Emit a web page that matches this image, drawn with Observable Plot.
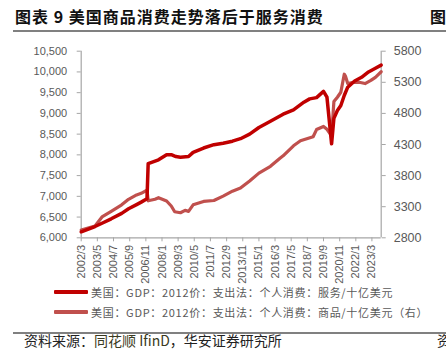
<!DOCTYPE html>
<html><head><meta charset="utf-8">
<script src="https://cdn.jsdelivr.net/npm/d3@7"></script>
<script src="https://cdn.jsdelivr.net/npm/@observablehq/plot@0.6"></script>
<style>
body{margin:0;background:#fff;}
#wrap{position:relative;width:446px;height:360px;overflow:hidden;background:#fff;font-family:"Noto Sans CJK SC","Noto Sans",sans-serif;}
#title{height:35px;position:relative;}
#title .t{position:absolute;left:15px;top:7px;font-size:16px;line-height:18px;font-weight:bold;color:#111;white-space:nowrap;letter-spacing:1px;}
#title .r{position:absolute;left:430px;top:7px;font-size:16px;line-height:18px;font-weight:bold;color:#111;}
.rule{position:absolute;left:13px;width:433px;height:2px;background:#808080;}
#chart{position:absolute;left:0;top:35px;}
.leg{position:absolute;left:0;width:446px;height:16px;}
.leg .ln{position:absolute;left:54px;width:34px;height:3.5px;top:6px;border-radius:1px;}
.leg .tx{position:absolute;left:91px;top:0;font-size:11px;line-height:16px;color:#595959;white-space:nowrap;letter-spacing:0.7px;}
#src{position:absolute;left:24px;top:331px;font-size:14px;line-height:18px;color:#222;white-space:nowrap;}
#src2{position:absolute;left:437px;top:331px;font-size:14px;line-height:18px;color:#222;}
</style></head>
<body>
<div id="wrap">
  <div id="title"><div class="t">图表 9&nbsp;美国商品消费走势落后于服务消费</div><div class="r">图</div></div>
  <div class="rule" style="top:29.5px"></div>
  <div id="chart"></div>
  <div class="leg" style="top:284px"><div class="ln" style="background:#C00000"></div><div class="tx">美国：GDP：2012价：支出法：个人消费：服务/十亿美元</div></div>
  <div class="leg" style="top:304px"><div class="ln" style="background:#C0504D"></div><div class="tx">美国：GDP：2012价：支出法：个人消费：商品/十亿美元（右）</div></div>
  <div class="rule" style="top:331.5px"></div>
  <div id="src">资料来源：<span style="color:#3a3a22">同花顺 IfinD</span>，华安证券研究所</div>
  <div id="src2">资</div>
</div>
<script>
// Services (left axis, 十亿美元)
const servicesDates = ["2002-03","2003-03","2003-09","2004-05","2005-02","2005-08","2006-03","2006-07","2006-12",
  "2007-01","2007-10","2008-05","2008-09","2009-01","2009-05","2009-12","2010-04","2011-01","2011-10","2012-06",
  "2013-02","2013-09","2014-05","2015-01","2015-11","2016-10","2017-07","2018-04","2018-09","2019-03","2019-09",
  "2019-12","2020-04","2020-06","2020-09","2020-12","2021-03","2021-06","2021-12","2022-06","2022-12","2023-06","2023-11"];
const servicesValues = [6145,6272,6350,6458,6590,6700,6800,6860,6940,
  7790,7880,8005,8005,7960,7945,7960,8060,8165,8245,8280,
  8330,8390,8500,8660,8810,8980,9085,9270,9350,9380,9530,
  9390,8266,8880,9070,9190,9431,9632,9780,9870,10000,10090,10165];

// Goods (right axis, 十亿美元)
const goodsDates = ["2002-03","2003-03","2003-09","2004-05","2005-02","2005-08","2006-03","2006-07","2006-12",
  "2007-01","2007-07","2007-10","2008-05","2008-09","2008-12","2009-05","2009-09","2009-12","2010-04","2011-01",
  "2011-10","2012-06","2013-02","2013-09","2014-05","2015-01","2015-11","2016-07","2016-10","2017-07","2018-01",
  "2018-12","2019-03","2019-09","2019-12","2020-04","2020-06","2020-09","2020-12","2021-03","2021-04","2021-06",
  "2021-11","2022-04","2022-09","2023-02","2023-06","2023-11"];
const goodsValues = [2925,2990,3135,3225,3330,3419,3489,3515,3568,
  3395,3420,3445,3392,3311,3219,3203,3242,3225,3330,3385,
  3400,3470,3550,3600,3714,3840,3950,4075,4118,4279,4360,
  4424,4540,4590,4545,4440,4990,5060,5140,5430,5400,5280,
  5300,5300,5280,5330,5380,5470];

const leftTicks = [6000,6500,7000,7500,8000,8500,9000,9500,10000,10500];
const rightTicks = [2800,3300,3800,4300,4800,5300,5800];
const xTickLabels = ["2002/3","2003/5","2004/7","2005/9","2006/11","2008/1","2009/3","2010/5","2011/7","2012/9",
  "2013/11","2015/1","2016/3","2017/5","2018/7","2019/9","2020/11","2022/1","2023/3"];

const parseYM = s => { const [y,m] = s.split(/[-\/]/).map(Number); return new Date(Date.UTC(y, m-1, 1)); };
const toLeft = r => 6000 + (r - 2800) * 1.5;
const fromLeft = v => 2800 + (v - 6000) / 1.5;

const services = servicesDates.map((d,i) => ({date: parseYM(d), v: servicesValues[i]}));
const goods = goodsDates.map((d,i) => ({date: parseYM(d), v: toLeft(goodsValues[i])}));
const xTicks = xTickLabels.map(parseYM);
const xDomain = [parseYM("2002-03"), parseYM("2023-11")];

const chart = Plot.plot({
  width: 446, height: 250,
  marginTop: 15.7, marginBottom: 47.7, marginLeft: 80.7, marginRight: 65.3,
  x: {type: "utc", domain: xDomain},
  y: {domain: [6000, 10500]},
  style: {fontFamily: "Arial, 'Liberation Sans', sans-serif", fontSize: "11px", color: "#595959", background: "white", overflow: "visible"},
  marks: [
    Plot.axisY({anchor: "left", ticks: leftTicks, tickFormat: d3.format(","), tickSize: 4, tickPadding: 10, label: null, stroke: "#A6A6A6", fill: "#595959", fontSize: 11}),
    Plot.axisY({anchor: "right", ticks: rightTicks.map(toLeft), tickFormat: v => String(Math.round(fromLeft(v))), tickSize: 4, tickPadding: 8.5, label: null, stroke: "#A6A6A6", fill: "#595959", fontSize: 12.5}),
    Plot.axisX({ticks: xTicks, tickFormat: d => `${d.getUTCFullYear()}/${d.getUTCMonth()+1}`, tickRotate: -90, tickSize: 4, tickPadding: 3, label: null, stroke: "#A6A6A6", fill: "#595959", fontSize: 11}),
    Plot.ruleX([xDomain[0]], {stroke: "#A6A6A6", strokeWidth: 1.2}),
    Plot.ruleX([xDomain[1]], {stroke: "#A6A6A6", strokeWidth: 1.2}),
    Plot.ruleY([6000], {stroke: "#A6A6A6", strokeWidth: 1.2}),
    Plot.line(goods, {x: "date", y: "v", stroke: "#C0504D", strokeWidth: 3.2, strokeLinejoin: "round"}),
    Plot.line(services, {x: "date", y: "v", stroke: "#C00000", strokeWidth: 3.5, strokeLinejoin: "round"})
  ]
});
document.getElementById("chart").appendChild(chart);
</script>
</body></html>
